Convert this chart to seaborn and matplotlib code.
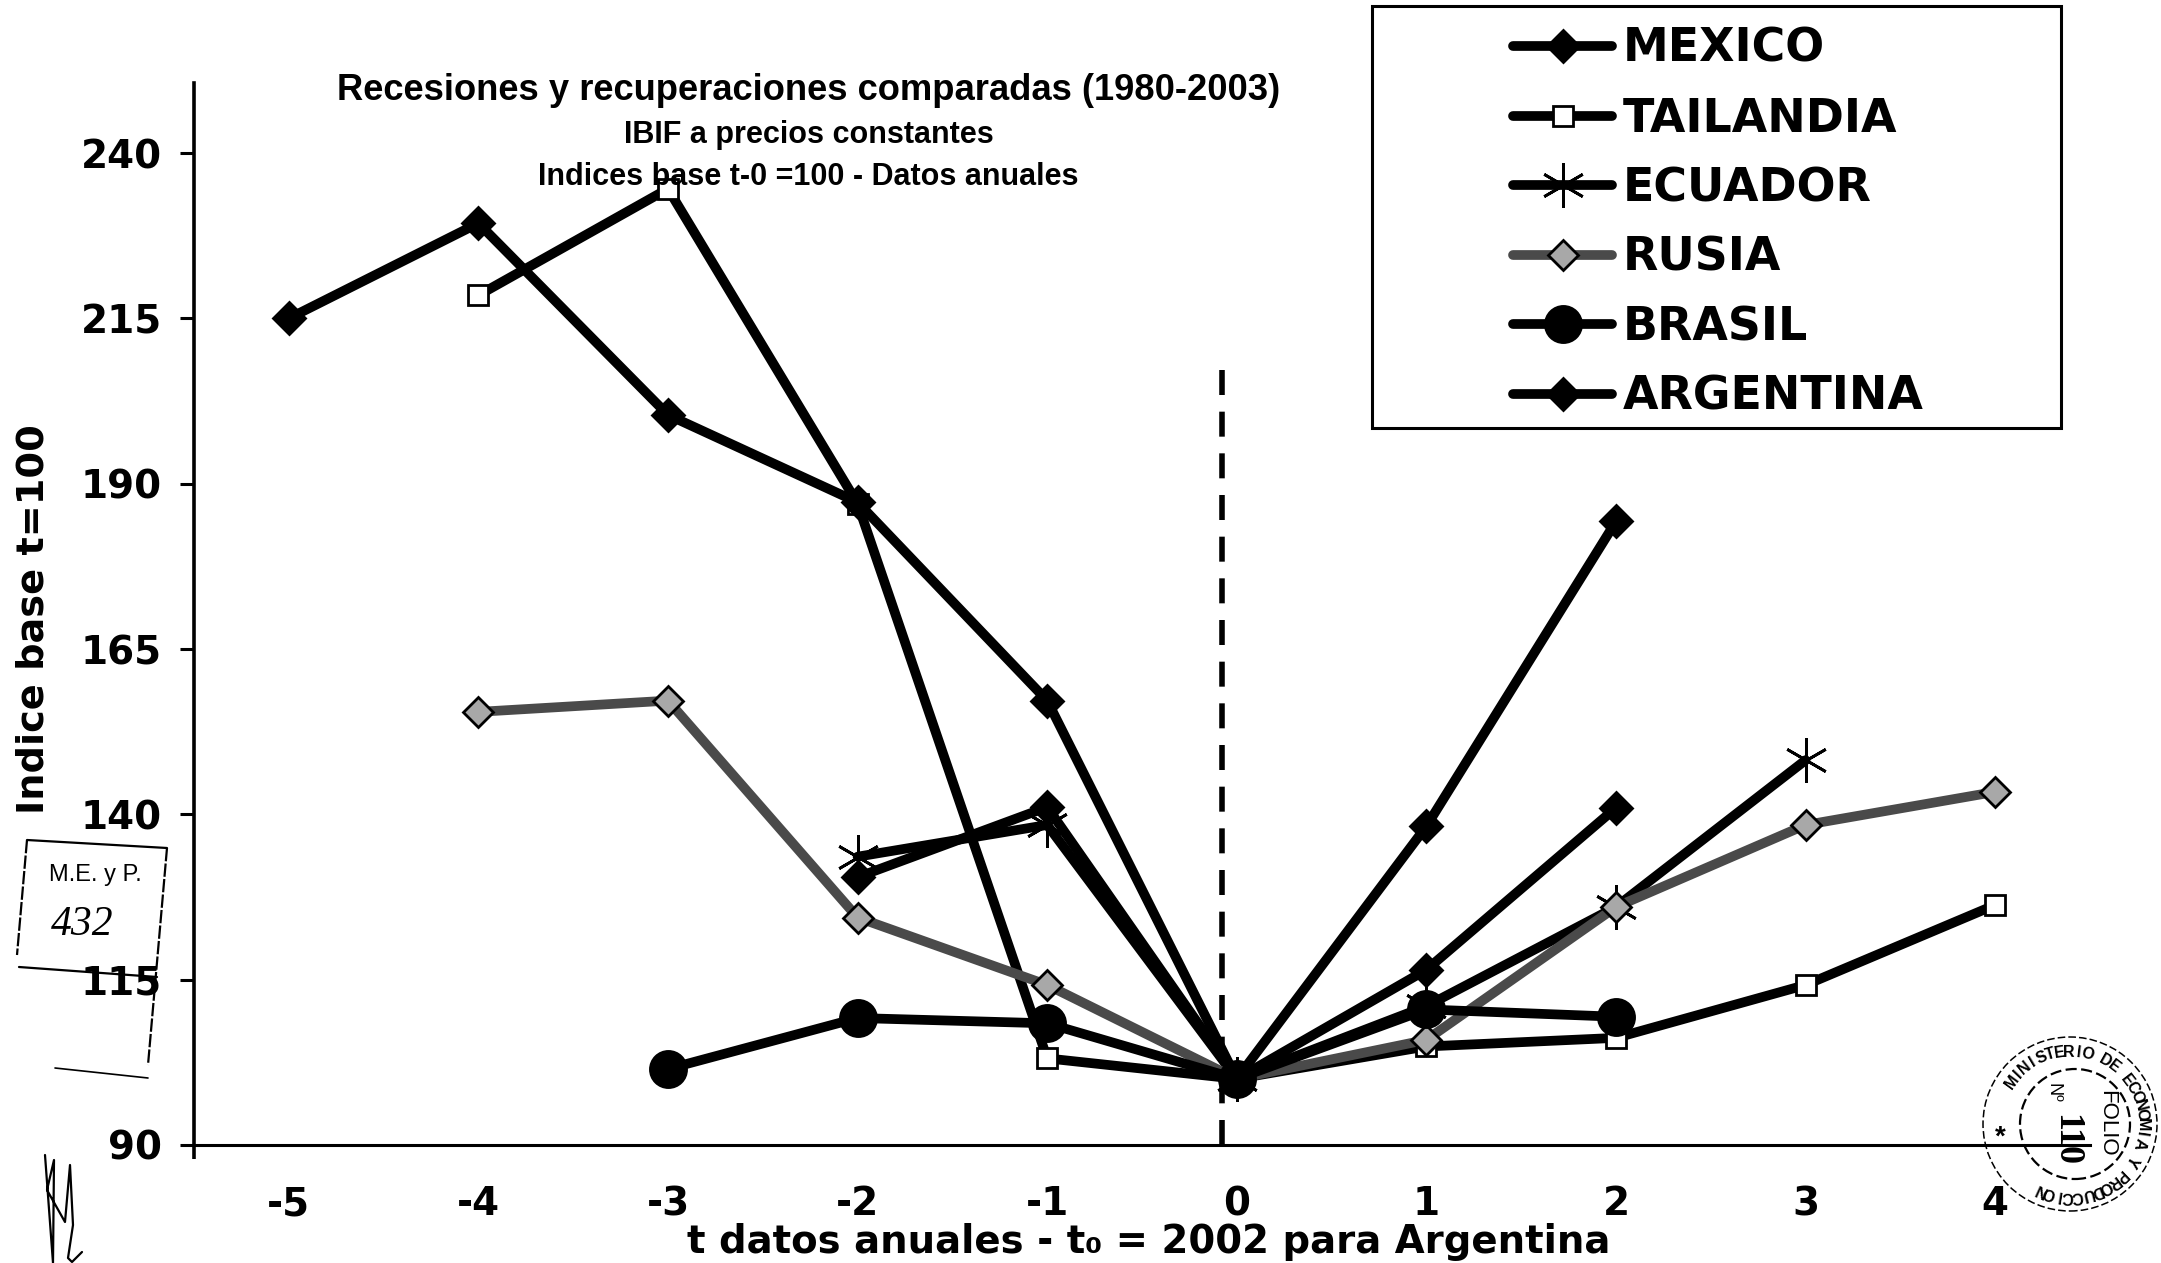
import matplotlib
matplotlib.use('Agg')
import matplotlib.pyplot as plt
from matplotlib.lines import Line2D
from matplotlib.patches import Circle, Rectangle
import numpy as np
import pandas as pd
import seaborn as sns

W, H = 2161, 1263

# ── Data ──────────────────────────────────────────────────────────────────────
t_all = [-5, -4, -3, -2, -1, 0, 1, 2, 3, 4]
nan = np.nan
mexico = [nan, nan, nan, 130.5, 141.1, 100, 116.5, 141, nan, nan]
tailandia = [nan, 218.5, 234.6, 187, 103.1, 100, 104.9, 106.2, 114.2, 126.3]
ecuador = [nan, nan, nan, 133.6, 138.4, 100, 111, 126, 148.2, nan]
rusia = [nan, 155.5, 157.2, 124.4, 114.2, 100, 105.9, 126, 138.4, 143.4]
brasil = [nan, nan, 101.5, 109.2, 108.4, 100, 110.5, 109.4, nan, nan]
argentina = [215, 229.4, 200.4, 187.2, 157.2, 100, 138.2, 184.3, nan, nan]
y_ticks = [90, 115, 140, 165, 190, 215, 240]

series = {
    'MEXICO': mexico, 'TAILANDIA': tailandia, 'ECUADOR': ecuador,
    'RUSIA': rusia, 'BRASIL': brasil, 'ARGENTINA': argentina,
}
styles = {
    'MEXICO': dict(marker='D', markersize=16, markerfacecolor='k', markeredgecolor='k', color='k'),
    'TAILANDIA': dict(marker='s', markersize=15, markerfacecolor='w', markeredgecolor='k', color='k'),
    'ECUADOR': dict(marker=(6, 2, 0), markersize=32, markerfacecolor='none', markeredgecolor='k', color='k'),
    'RUSIA': dict(marker='D', markersize=15, markerfacecolor='#a8a8a8', markeredgecolor='k', color='#4a4a4a'),
    'BRASIL': dict(marker='o', markersize=26, markerfacecolor='k', markeredgecolor='k', color='k'),
    'ARGENTINA': dict(marker='D', markersize=16, markerfacecolor='k', markeredgecolor='k', color='k'),
}


def px(x, y):
    return x / W, 1 - y / H


def fig_line(fig, xs, ys, lw=1.6, **kw):
    pts = [px(a, b) for a, b in zip(xs, ys)]
    fig.add_artist(Line2D([p[0] for p in pts], [p[1] for p in pts], transform=fig.transFigure,
                          color='k', lw=lw, **kw))


def fig_text(fig, x, y, s, **kw):
    a, b = px(x, y)
    kw.setdefault('ha', 'center')
    kw.setdefault('va', 'center')
    fig.text(a, b, s, **kw)


# ── Chart ─────────────────────────────────────────────────────────────────────
sns.set_style('ticks')
plt.rcParams['font.family'] = ['DejaVu Sans']
plt.rcParams['text.color'] = 'k'
plt.rcParams['axes.labelcolor'] = 'k'
plt.rcParams['axes.edgecolor'] = 'k'
plt.rcParams['xtick.color'] = 'k'
plt.rcParams['ytick.color'] = 'k'

fig = plt.figure(figsize=(W / 100, H / 100), dpi=100, facecolor='w')
ax = fig.add_axes([194 / W, 1 - 1145 / H, (2090 - 194) / W, (1145 - 83) / H])

for name, values in series.items():
    df = pd.DataFrame({'t': t_all, 'indice': values}).dropna()
    sns.lineplot(data=df, x='t', y='indice', ax=ax, label=name, legend=False, sort=False,
                 errorbar=None, linewidth=7, markeredgewidth=2,
                 solid_joinstyle='miter', clip_on=False, **styles[name])

ax.vlines(-0.08, 90, 208.6, color='k', lw=4, linestyles=(0, (4.5, 3)), zorder=1)

ax.set_xlim(-5.5, 4.5)
ax.set_ylim(90, 250.6)
ax.set_yticks(y_ticks)
ax.set_xticks(t_all)
ax.set_xticklabels([str(v) for v in t_all])
ax.tick_params(axis='y', direction='out', length=10, width=2.2, labelsize=28, pad=13)
ax.tick_params(axis='x', length=0, labelsize=28, pad=29)
for lab in ax.get_xticklabels() + ax.get_yticklabels():
    lab.set_fontweight('bold')
# solo el eje vertical baja de la linea base
ax.set_xticks([-5.5], minor=True)
ax.tick_params(axis='x', which='minor', direction='out', length=10, width=2.6)
ax.set_xlabel('')
ax.set_ylabel('')
for side in ['top', 'right']:
    ax.spines[side].set_visible(False)
ax.spines['left'].set_linewidth(2.6)
ax.spines['bottom'].set_linewidth(2.2)

fig_text(fig, 34, 619, 'Indice base t=100', rotation=90, fontsize=27.5, fontweight='bold')
fig_text(fig, 1149, 1242, 't datos anuales - t₀ = 2002 para Argentina', fontsize=27.8, fontweight='bold')

# titulos dentro del grafico
fig_text(fig, 809, 91, 'Recesiones y recuperaciones comparadas (1980-2003)',
         fontsize=26.2, fontweight='bold', family='Liberation Sans')
fig_text(fig, 809, 135, 'IBIF a precios constantes', fontsize=22, fontweight='bold', family='Liberation Sans')
fig_text(fig, 808, 177, 'Indices base t-0 =100 - Datos anuales', fontsize=22, fontweight='bold',
         family='Liberation Sans')

# leyenda con marco propio
a, b = px(1372, 428)
fig.add_artist(Rectangle((a, b), (2061 - 1372) / W, (428 - 6) / H, transform=fig.transFigure,
                         fill=False, ec='k', lw=2.2))
handles, labels = ax.get_legend_handles_labels()
leg = ax.legend(handles, labels, loc='upper left', bbox_to_anchor=px(1513, 27), bbox_transform=fig.transFigure,
                frameon=False, borderpad=0, borderaxespad=0, handlelength=2.17, handletextpad=0.22,
                labelspacing=0.536, prop=dict(size=33, weight='bold'))

# sello M.E. y P.
fig_line(fig, [27, 167], [840, 848])
fig_line(fig, [167, 148], [848, 1065], ls=(0, (6, 1)))
fig_line(fig, [27, 17], [840, 955], ls=(0, (6, 1)))
fig_line(fig, [19, 157], [967, 977])
fig_line(fig, [55, 148], [1068, 1078], lw=1.2)
fig_text(fig, 95, 875, 'M.E. y P.', fontsize=17, family='Liberation Sans')
fig_text(fig, 82, 925, '432', fontsize=30, style='italic', family='Liberation Serif')

# firma
fig_line(fig, [45, 53, 54, 47, 65, 70, 73, 68, 72, 82], [1155, 1263, 1160, 1190, 1222, 1165, 1225, 1258, 1262, 1252])

# sello folio
for (cx, cy, r, lw) in [(2070, 1124, 87, 1.1), (2075, 1124, 55, 1.6)]:
    fig.add_artist(Circle((cx, H - cy), r, transform=None, fill=False, ec='k', lw=lw, ls=(0, (5, 2))))
ring = 'MINISTERIO DE ECONOMIA Y PRODUCCION'
for i, ch in enumerate(ring):
    ang = np.deg2rad(144 - i * 7.6)
    fig_text(fig, 2070 + 72 * np.cos(ang), 1124 - 72 * np.sin(ang), ch, fontsize=11.5, fontweight='bold',
             rotation=np.rad2deg(ang) - 90, family='Liberation Sans')
fig_text(fig, 2107, 1123, 'FOLIO', rotation=-90, fontsize=16, family='Liberation Sans')
fig_text(fig, 2053, 1093, 'Nº', rotation=-90, fontsize=13, family='Liberation Sans')
fig_text(fig, 2066, 1140, '110', rotation=-90, fontsize=26, fontweight='bold', family='Liberation Serif')
fig_text(fig, 2000, 1138, '*', fontsize=20, fontweight='bold', family='Liberation Sans')

plt.savefig('out.png', dpi=100, facecolor='w')
plt.close()
